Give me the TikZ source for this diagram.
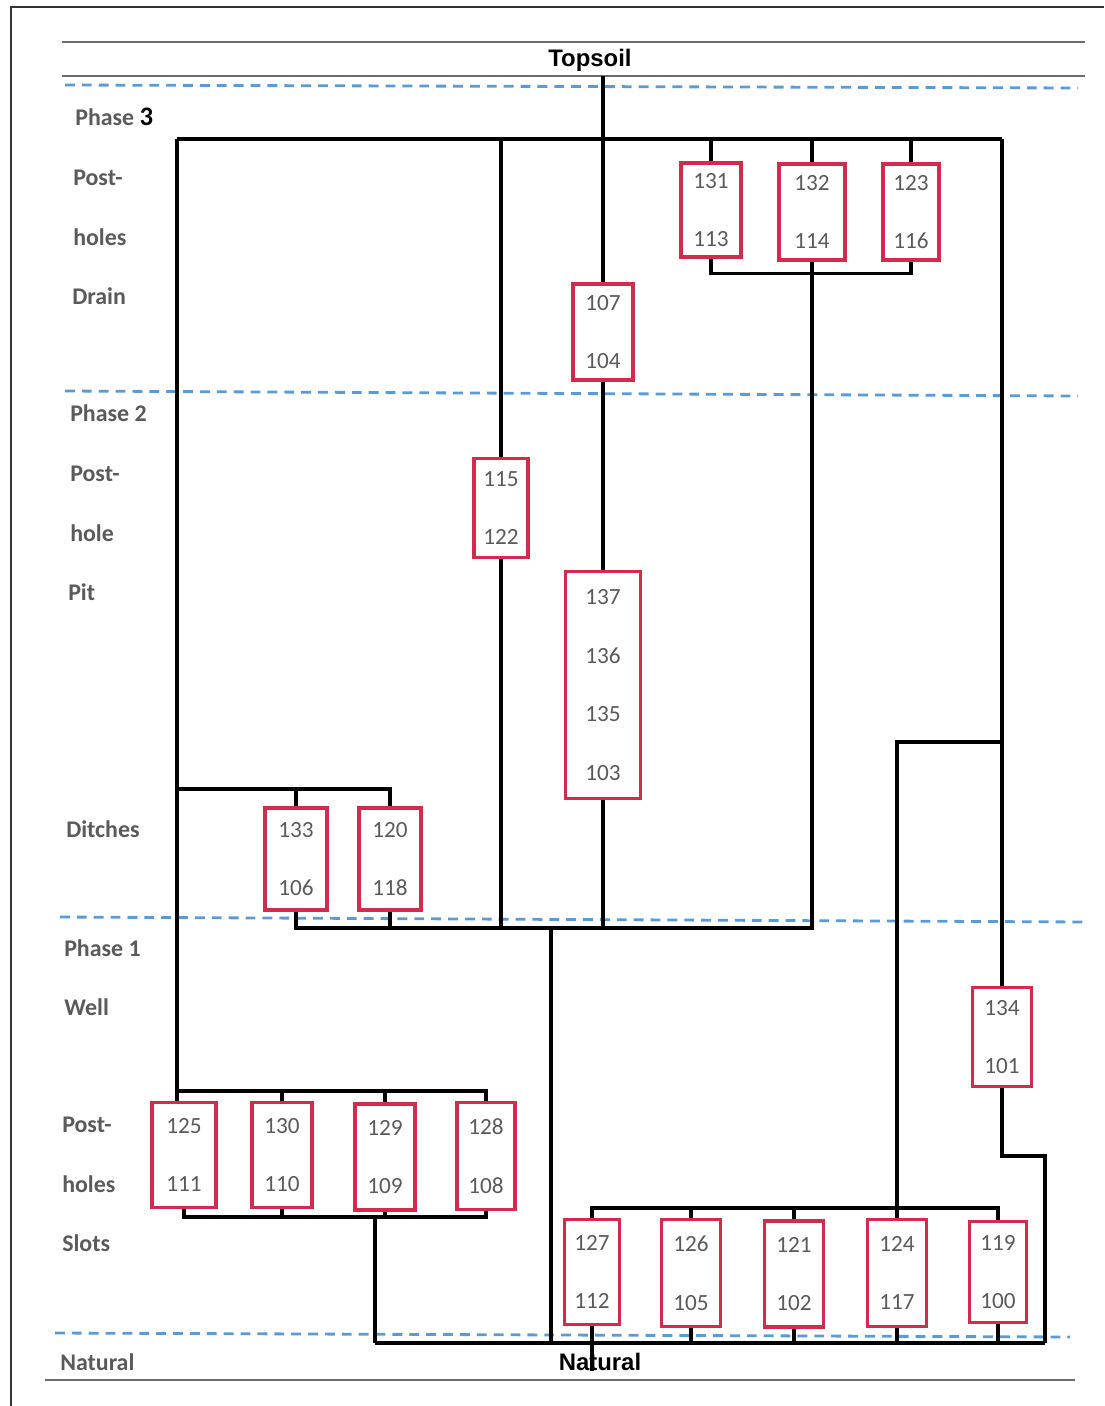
\documentclass[tikz,border=0pt]{standalone}
\usepackage{fontspec}
\setmainfont{Carlito}
\newfontfamily\headfont{Liberation Sans}
\usepackage{xcolor}
\usepackage{tikz}
\usetikzlibrary{positioning}

\definecolor{boxred}{HTML}{D22B4C}
\definecolor{seamblue}{HTML}{5B9BD5}
\definecolor{labelgray}{HTML}{5A5A5A}

\tikzset{
    unit/.style={draw=boxred, line width=2.6pt, fill=white, inner sep=0pt, align=center,
        text=labelgray, font=\fontsize{16.5}{41.8}\selectfont},
    link/.style={line width=2.2pt, black},
    seam/.style={seamblue, line width=2pt, dash pattern=on 7pt off 5pt},
    rule/.style={gray!85!black, line width=1.3pt},
    lbl/.style={anchor=west, inner sep=0pt, text=labelgray, font=\fontsize{17}{20}\selectfont\bfseries},
    head/.style={inner sep=0pt, font=\headfont\fontsize{17}{20}\selectfont\bfseries}
}

\begin{document}
\begin{tikzpicture}[x=0.025cm, y=-0.025cm]
    \useasboundingbox (0,0) rectangle (1104,1406);
    % page edge
    \draw[line width=1.2pt, black!80] (11,1406) -- (11,7) -- (1104,7);

    % soil horizons
    \draw[rule] (62,42) -- (1085,42);
    \draw[rule] (62,76) -- (1085,76);
    \draw[rule] (45,1380) -- (1075,1380);
    \node[head] (topsoil) at (590,60) {Topsoil};
    \node[head] (natural) at (600,1362) {Natural};

    % phase boundaries
    \draw[seam] (65,85) -- (1078,88);
    \draw[seam] (65,391) -- (1078,396);
    \draw[seam] (60,917) -- (1085,922);
    \draw[seam] (55,1333) -- (1070,1337);

    % left hand labels
    \node[lbl] (l1) at (75,117) {Phase {\color{black}\fontsize{19}{20}\selectfont 3}};
    \foreach \name/\x/\y/\txt in {l2/73/178/Post-, l3/73/237/holes, l4/72/296/Drain,
        l5/70/413/Phase 2, l6/70/474/Post-, l7/70/533/hole, l8/68/592/Pit,
        l9/66/829/Ditches, l10/64/948/Phase 1, l11/64/1007/Well,
        l12/62/1125/Post-, l13/62/1184/holes, l14/62/1243/Slots, l15/60/1362/Natural}
        \node[lbl] (\name) at (\x,\y) {\txt};

    % contexts
    \foreach \name/\x/\y/\w/\h/\txt in {
        b131/711/210/60/94/{131\\113}, b132/812/212/66/96/{132\\114},
        b123/911/212/56/96/{123\\116}, b107/603/332/60/96/{107\\104},
        b115/501/508/54/99/{115\\122}, b137/603/685/75/227/{137\\136\\135\\103},
        b133/296/859/62/102/{133\\106}, b120/390/859/62/102/{120\\118},
        b134/1002/1037/59/99/{134\\101},
        b125/184/1155/64/105/{125\\111}, b130/282/1155/60/105/{130\\110},
        b129/385/1157/60/106/{129\\109}, b128/486/1156/58/107/{128\\108},
        b127/592/1272/55/105/{127\\112}, b126/691/1273/59/107/{126\\105},
        b121/794/1274/59/106/{121\\102}, b124/897/1273/59/107/{124\\117},
        b119/998/1272/57/101/{119\\100}}
        \node[unit, minimum width=\w*0.025cm, minimum height=\h*0.025cm] (\name) at (\x,\y) {\txt};

    % junction levels
    \coordinate (soil) at (603,76);
    \coordinate (p3w) at (177,139);
    \coordinate (p3e) at (1002,139);
    \coordinate (dj) at (177,789);
    \coordinate (wj) at (1002,742);
    \coordinate (dy) at (0,928);
    \coordinate (cj) at (551,928);
    \coordinate (phy) at (0,1091);
    \coordinate (pby) at (0,1217);
    \coordinate (sy) at (0,1208);
    \coordinate (ny) at (0,1343);
    \coordinate (nw) at (375,1343);
    \coordinate (ne) at (1045,1343);

    % phase 3
    \draw[link] (soil) -- (b107);
    \draw[link] (p3w) -- (p3e);
    \foreach \b in {b131,b132,b123,b115}
        \draw[link] (\b.north |- p3w) -- (\b.north);
    \draw[link] (b131.south) -- ++(0,15) -| (b123.south);
    \draw[link] (b107.south) -- (b137.north);

    % phase 2
    \draw[link] (p3w) -- (p3w |- b125.north);
    \draw[link] (dj) -| (b120.north);
    \draw[link] (b133.north |- dj) -- (b133.north);
    \draw[link] (b133.south) -- (b133.south |- dy) -- (b132.south |- dy) -- (b132.south);
    \foreach \b in {b120,b115,b137}
        \draw[link] (\b.south) -- (\b.south |- dy);
    \draw[link] (p3e) -- (p3e |- b134.north);
    \draw[link] (wj) -| (b124.north);

    % phase 1
    \draw[link] (cj) -- (cj |- ny);
    \draw[link] (nw) -- (ne);
    \draw[link] (p3w |- phy) -- (b128.north |- phy) -- (b128.north);
    \foreach \b in {b130,b129}
        \draw[link] (\b.north |- phy) -- (\b.north);
    \draw[link] (b125.south) -- (b125.south |- pby) -- (b128.south |- pby) -- (b128.south);
    \foreach \b in {b130,b129}
        \draw[link] (\b.south) -- (\b.south |- pby);
    \draw[link] (nw |- pby) -- (nw);
    \draw[link] (b127.north) -- (b127.north |- sy) -- (b119.north |- sy) -- (b119.north);
    \foreach \b in {b126,b121}
        \draw[link] (\b.north |- sy) -- (\b.north);
    \foreach \b in {b126,b121,b124,b119}
        \draw[link] (\b.south) -- (\b.south |- ny);
    \draw[link] (b127.south) -- ++(0,45);
    \draw[link] (b134.south) -- (b134.south |- 0,1156) -| (ne);
\end{tikzpicture}
\end{document}
